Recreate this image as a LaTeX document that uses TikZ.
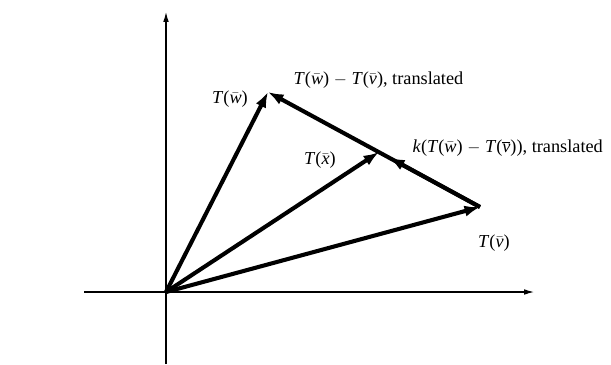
\documentclass[tikz,border=0pt]{standalone}
\usepackage{fontspec}
\setmainfont{Liberation Serif}
\usetikzlibrary{arrows.meta,calc,positioning}

% italic letters in the text font, with a bar
\newcommand{\bvec}[1]{\ensuremath{\bar{\mbox{\itshape #1}}}}
\newcommand{\obvec}[1]{\ensuremath{\overline{\mbox{\itshape #1}}}}

\begin{document}
\begin{tikzpicture}[x=0.025cm, y=-0.025cm,
    axis/.style={line width=0.8pt, -{Latex[length=7pt,width=4pt]}},
    vec/.style={line width=2.9pt, -{Latex[length=11pt,width=8pt]}},
    lbl/.style={font=\fontsize{13}{15}\selectfont, inner sep=1pt}]
\useasboundingbox (0,0) rectangle (611,364);

% Points
\coordinate (O) at (166,292);
\coordinate (W) at (268,92);
\coordinate (V) at (480,207);
\coordinate (X) at (379,152);
\coordinate (K) at ($(V)!0.9!(X)$);

% Axes
\coordinate (xl) at (84,292);
\coordinate (xr) at (534,292);
\coordinate (yb) at (166,364);
\coordinate (yt) at (166,12);
\draw[axis] (xl) -- (xr);
\draw[axis] (yb) -- (yt);

% Vectors from the origin
\draw[vec] (O) -- (W);
\draw[vec] (O) -- (V);
\draw[vec] (O) -- (X);

% Translated differences
\draw[vec] (V) -- (W);
\draw[vec] (V) -- (K);

% Labels
\node[lbl] (lw) at (230,99) {\textit{T}(\bvec{w})};
\node[lbl, anchor=west] (ldiff) at (292,80) {\textit{T}(\bvec{w}) $-$ \textit{T}(\bvec{v}), translated};
\node[lbl] (lx) at (320,160) {\textit{T}(\bvec{x})};
\node[lbl, anchor=west] (lk) at (411,148) {\textit{k}(\textit{T}(\bvec{w}) $-$ \textit{T}(\obvec{v})), translated};
\node[lbl] (lv) at (494,243) {\textit{T}(\bvec{v})};

\end{tikzpicture}
\end{document}
